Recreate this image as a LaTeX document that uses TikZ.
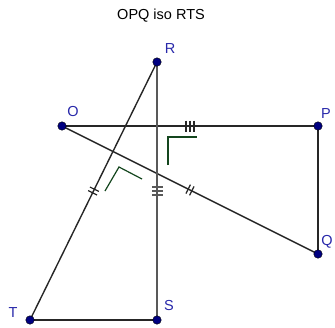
\documentclass[tikz,border=0pt]{standalone}
\usepackage{fontspec}
\setmainfont{Liberation Sans}
\usetikzlibrary{calc,decorations.markings}

\definecolor{ptblue}{RGB}{0,0,128}
\definecolor{lblblue}{RGB}{40,40,170}
\definecolor{anggreen}{RGB}{20,70,30}

\begin{document}
\begin{tikzpicture}[x=1pt,y=-1pt,
  seg/.style={line width=1.4pt,black!85},
  pt/.style={circle,fill=ptblue,draw=black,line width=0.4pt,inner sep=0pt,minimum size=8.5pt},
  lbl/.style={text=lblblue,font=\fontsize{14.5}{14.5}\selectfont,inner sep=1pt},
  anglemark/.style={line width=1.2pt,anggreen},
  ticktwo/.style={postaction={decorate,decoration={markings,
      mark=at position 0.5 with {\foreach \d in {-2,2} \draw[line width=1.2pt] (\d,-5) -- (\d,5);}}}},
  tickthree/.style={postaction={decorate,decoration={markings,
      mark=at position 0.5 with {\foreach \d in {-4,0,4} \draw[line width=1.2pt] (\d,-5.5) -- (\d,5.5);}}}}]
  \useasboundingbox (0,0) rectangle (335,327);

  \coordinate (O) at (62,126);
  \coordinate (P) at (318,126);
  \coordinate (Q) at (318,254);
  \coordinate (R) at (157,62);
  \coordinate (T) at (30,320);
  \coordinate (S) at (157,320);

  \node (title) at (161,16) {\fontsize{14.5}{14.5}\selectfont OPQ iso RTS};

  % right angle marks
  \draw[anglemark] (168,165) -- (168,137) -- (197,137);
  \draw[anglemark] (105,191) -- (119,167) -- (142,179);

  % triangles
  \draw[seg,tickthree] (O) -- (P);
  \draw[seg] (P) -- (Q);
  \draw[seg,ticktwo] (O) -- (Q);
  \draw[seg,black!65,tickthree] (R) -- (S);
  \draw[seg] (S) -- (T);
  \draw[seg,ticktwo] (T) -- (R);

  % points
  \foreach \p in {O,P,Q,R,S,T}
    \node[pt] (dot\p) at (\p) {};

  \node[lbl] (lblR) at (170,49) {R};
  \node[lbl] (lblO) at (73,112) {O};
  \node[lbl] (lblP) at (326,114) {P};
  \node[lbl] (lblQ) at (327,242) {Q};
  \node[lbl] (lblT) at (13,313) {T};
  \node[lbl] (lblS) at (169,306) {S};
\end{tikzpicture}
\end{document}
